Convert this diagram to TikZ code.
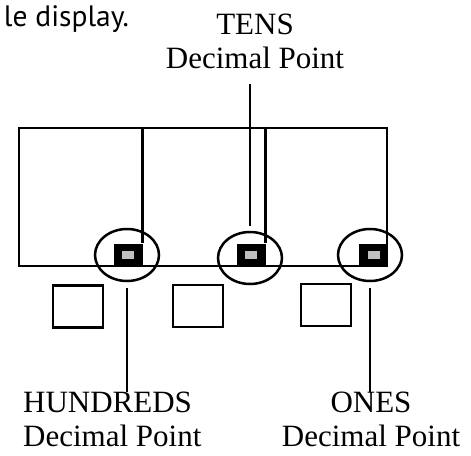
\documentclass[tikz,border=0pt]{standalone}
\usepackage{fontspec}
\setmainfont{Liberation Serif}
\newfontfamily\sansaff{PT Sans}
\usetikzlibrary{shapes.geometric}
\definecolor{gris}{RGB}{192,192,192}
\begin{document}
\begin{tikzpicture}[x=1pt,y=-1pt]
	\tikzstyle{trait}=[line width=2.8pt]
	\tikzstyle{cadre}=[draw,line width=2.8pt,inner sep=0pt]
	\tikzstyle{point}=[fill=black,inner sep=0pt,minimum width=29pt,minimum height=23pt]
	\tikzstyle{reflet}=[fill=gris,inner sep=0pt,minimum width=12pt,minimum height=8pt]
	\tikzstyle{cercle}=[draw,ellipse,line width=2.5pt,inner sep=0pt,minimum width=64pt,minimum height=52pt]
	\tikzstyle{case}=[draw,line width=2.8pt,inner sep=0pt,minimum width=50pt,minimum height=42pt]
	\tikzstyle{etiquette}=[font=\fontsize{31}{34}\selectfont,inner sep=0pt]
	\def\HautTexte{391.7}
	\def\Ecart{6pt}
	\useasboundingbox (0,0) rectangle (471,455);
	\node[anchor=base east,inner sep=0pt,font=\sansaff\fontsize{29.5}{34}\selectfont] (phrase) at (129,27) {le display.};
	\node[cadre,minimum width=368pt,minimum height=138pt] (cadre) at (203,197) {};
	\node[point] (pointA) at (128,255) {};
	\node[point] (pointB) at (251,255) {};
	\node[point] (pointC) at (373.5,255) {};
	\node[reflet] (refletA) at (pointA) {};
	\node[reflet] (refletB) at (pointB) {};
	\node[reflet] (refletC) at (pointC) {};
	\node[cercle] (cercleA) at (127,255) {};
	\node[cercle] (cercleB) at (250,258) {};
	\node[cercle] (cercleC) at (370,255) {};
	\node[case] (caseA) at (78,306.5) {};
	\node[case] (caseB) at (198,306) {};
	\node[case] (caseC) at (326,305) {};
	\node[etiquette,align=center,anchor=north] (etiqT) at (255,13.7) {TENS\\Decimal Point};
	\node[etiquette,align=left,anchor=north west] (etiqH) at (23,\HautTexte) {HUNDREDS\\Decimal Point};
	\node[etiquette,align=center,anchor=north] (etiqO) at (371,\HautTexte) {ONES\\Decimal Point};
	\draw[trait] (cadre.north -| pointA.east) -- (pointA.north east);
	\draw[trait] (cadre.north -| pointB.east) -- (pointB.north east);
	\draw[trait,shorten <=15pt,shorten >=5pt] (cercleB.north |- etiqT.south) -- (cercleB.north);
	\draw[trait,shorten <=\Ecart] (cercleA.south) -- (cercleA.south |- etiqH.north);
	\draw[trait,shorten <=\Ecart] (cercleC.south) -- (cercleC.south |- etiqO.north);
\end{tikzpicture}
\end{document}
